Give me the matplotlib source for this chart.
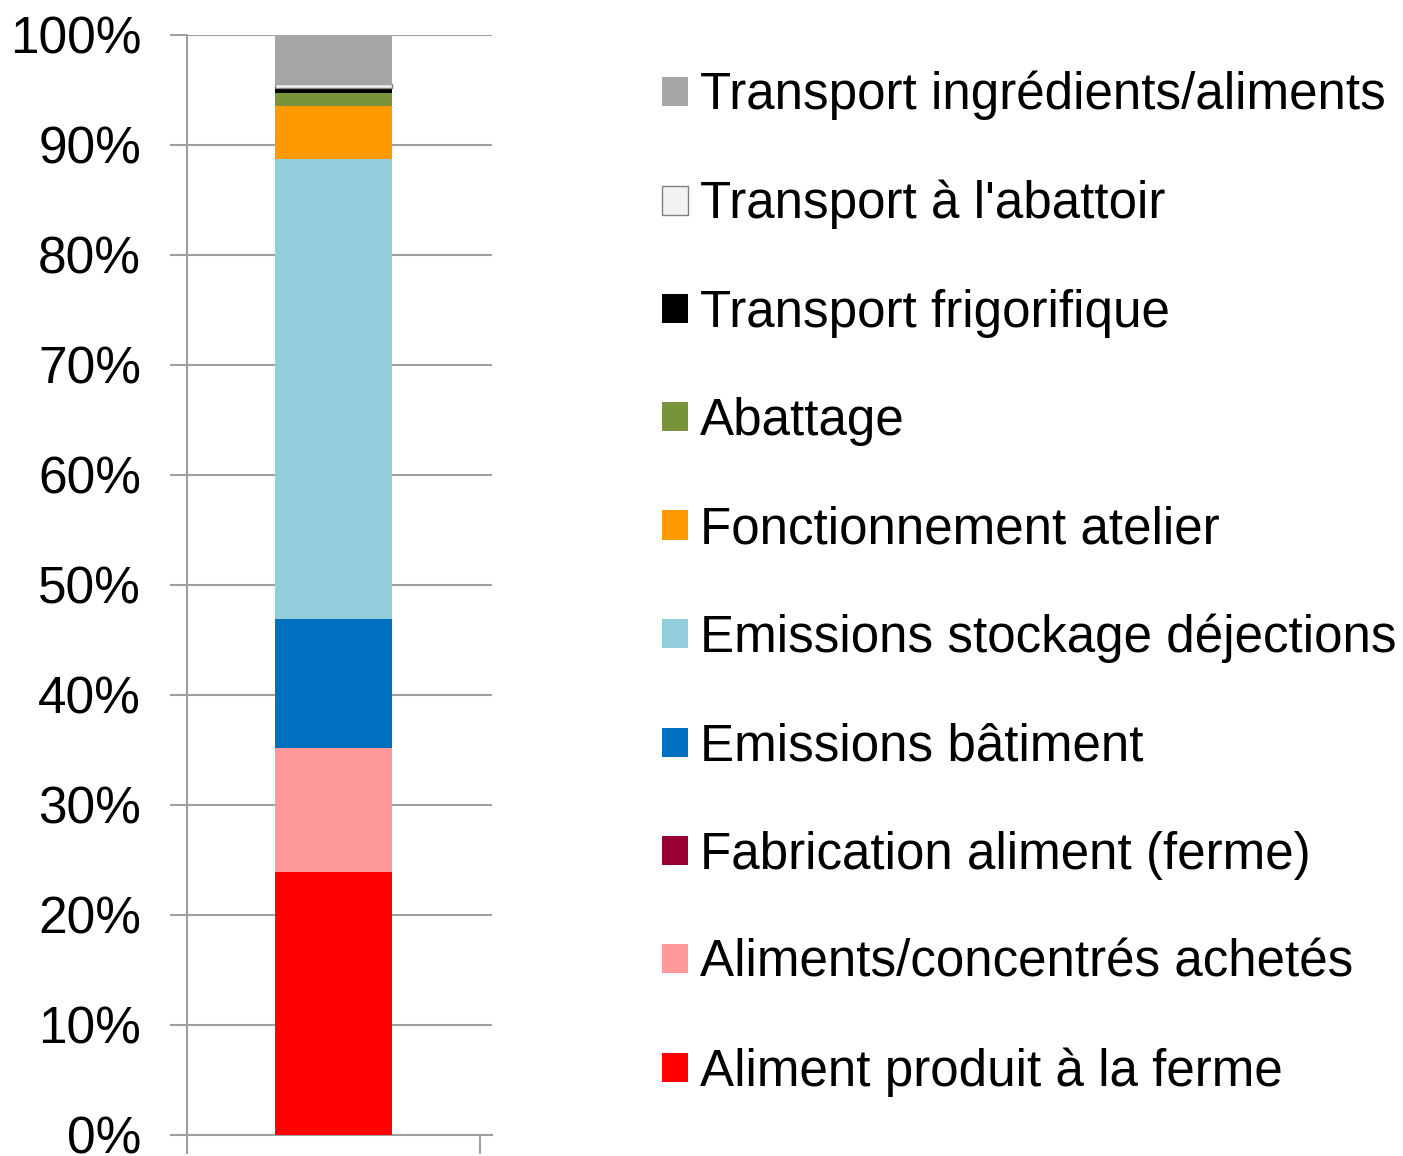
import numpy as np
import matplotlib
matplotlib.use("Agg")
import matplotlib.pyplot as plt
from matplotlib.patches import Patch
from matplotlib.ticker import PercentFormatter

plt.rcParams['font.family'] = ['Liberation Sans', 'DejaVu Sans']

# stack order, bottom to top
categories = [
    "Aliment produit à la ferme",
    "Aliments/concentrés achetés",
    "Fabrication aliment (ferme)",
    "Emissions bâtiment",
    "Emissions stockage déjections",
    "Fonctionnement atelier",
    "Abattage",
    "Transport frigorifique",
    "Transport à l'abattoir",
    "Transport ingrédients/aliments",
]
values = [23.9, 11.3, 0.0, 11.7, 41.8, 4.85, 1.2, 0.45, 0.3, 4.5]
colors = ["#FF0000", "#FF9999", "#990033", "#0070C0", "#92CDDC",
          "#FF9900", "#77933C", "#000000", "#F2F2F2", "#A6A6A6"]

values = np.array(values) / np.sum(values) * 100

fig = plt.figure(figsize=(14.03, 11.56), dpi=100)
ax = fig.add_axes([187/1403, 1 - 1135/1156, 305/1403, 1100/1156])

bottom = 0.0
for name, v, c in zip(categories, values, colors):
    edge = "#808080" if c == "#F2F2F2" else "none"
    ax.bar(0, v, width=0.396, bottom=bottom, color=c, edgecolor=edge,
           linewidth=1.0, label=name, zorder=3)
    bottom += v

ax.set_xlim(-0.5, 0.5 + 12/293)
ax.set_ylim(0, 100)
ax.set_yticks(np.arange(0, 101, 10))
ax.yaxis.set_major_formatter(PercentFormatter(decimals=0))
ax.set_xticks([-0.5, 0.5])
ax.set_xticklabels([])
ax.grid(axis='y', color="#A0A0A0", linewidth=1.5, zorder=0)
for s in ["top", "right"]:
    ax.spines[s].set_visible(False)
for s in ["left", "bottom"]:
    ax.spines[s].set_color("#A0A0A0")
    ax.spines[s].set_linewidth(1.5)
ax.tick_params(axis='y', length=12, width=1.5, color="#A0A0A0",
               labelsize=37, pad=21)
ax.tick_params(axis='x', length=14, width=1.5, color="#A0A0A0")

handles = [Patch(facecolor=c, edgecolor=("#808080" if c == "#F2F2F2" else "none"),
                 linewidth=1.0) for c in colors]
fig.legend(handles[::-1], categories[::-1], loc='upper left',
           bbox_to_anchor=(662/1403, 1 - 71/1156), frameon=False,
           fontsize=36.8, handlelength=0.5, handleheight=0.5,
           handletextpad=0.25, labelspacing=1.16, borderaxespad=0,
           borderpad=0)

fig.savefig("out.png", dpi=100)
